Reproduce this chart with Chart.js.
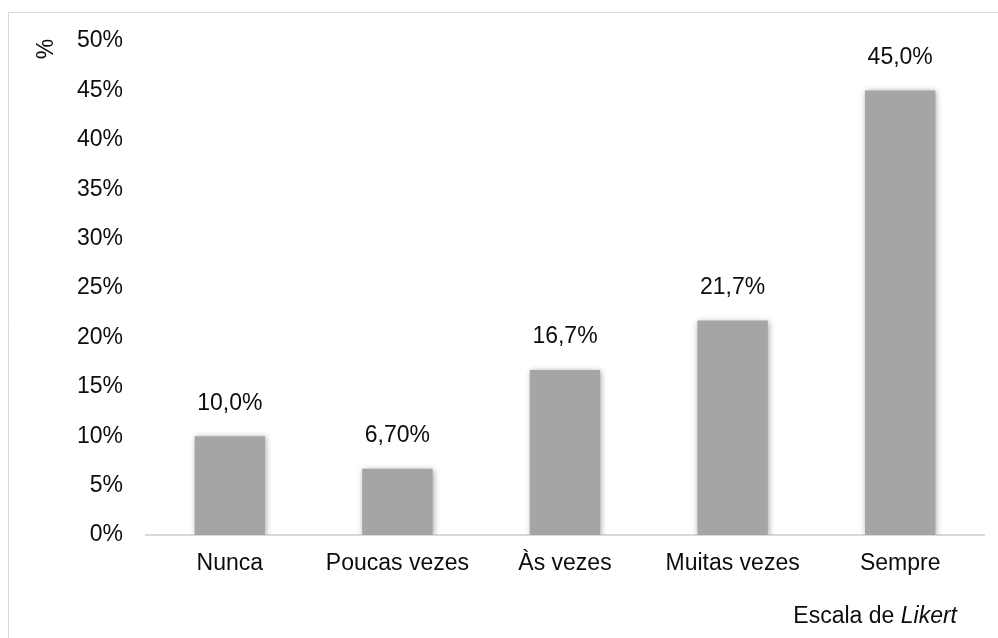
<!DOCTYPE html>
<html>
<head>
<meta charset="utf-8">
<script src="https://cdn.jsdelivr.net/npm/chart.js@4.4.0/dist/chart.umd.min.js"></script>
<style>
    html, body { margin: 0; padding: 0; background: #fff; }
    #wrap { width: 998px; height: 638px; position: relative; }
</style>
</head>
<body>
<div id="wrap"><canvas id="likertChart"></canvas></div>
<script>
// ============================================
// Escala de Likert - bar chart
// ============================================

const categories = ['Nunca', 'Poucas vezes', 'Às vezes', 'Muitas vezes', 'Sempre'];
const percentValues = [10.0, 6.7, 16.7, 21.7, 45.0];
const valueLabels = ['10,0%', '6,70%', '16,7%', '21,7%', '45,0%'];
const yTicks = [0, 5, 10, 15, 20, 25, 30, 35, 40, 45, 50];

const FONT = '"Liberation Sans", Arial, sans-serif';
const TEXT_COLOR = '#0d0d0d';

// Frame, axis titles and value labels
const decorPlugin = {
    id: 'decor',
    beforeDraw(chart) {
        const ctx = chart.ctx;
        ctx.save();
        ctx.strokeStyle = '#d9d9d9';
        ctx.lineWidth = 1;
        ctx.beginPath();
        ctx.moveTo(8.5, 640);
        ctx.lineTo(8.5, 12.5);
        ctx.lineTo(1000, 12.5);
        ctx.stroke();
        ctx.restore();
    },
    beforeDatasetsDraw(chart) {
        const ctx = chart.ctx;
        ctx.save();
        ctx.shadowColor = 'rgba(0, 0, 0, 0.35)';
        ctx.shadowBlur = 6;
        ctx.shadowOffsetX = 1;
        ctx.shadowOffsetY = 1;
    },
    afterDatasetsDraw(chart) {
        const ctx = chart.ctx;
        ctx.restore();

        ctx.save();
        ctx.font = '23px ' + FONT;
        ctx.fillStyle = TEXT_COLOR;
        ctx.textAlign = 'center';
        ctx.textBaseline = 'middle';
        chart.getDatasetMeta(0).data.forEach((bar, i) => {
            ctx.fillText(valueLabels[i], bar.x, bar.y - 33);
        });

        // y axis title
        ctx.save();
        ctx.translate(47, 49);
        ctx.rotate(-Math.PI / 2);
        ctx.fillText('%', 0, 0);
        ctx.restore();

        // x axis title, "Likert" in italics
        ctx.textBaseline = 'alphabetic';
        ctx.textAlign = 'left';
        const right = 957;
        const base = 623;
        ctx.font = 'italic 23px ' + FONT;
        const wItalic = ctx.measureText('Likert').width;
        ctx.font = '23px ' + FONT;
        const wPlain = ctx.measureText('Escala de ').width;
        const x0 = right - wItalic - wPlain;
        ctx.fillText('Escala de ', x0, base);
        ctx.font = 'italic 23px ' + FONT;
        ctx.fillText('Likert', x0 + wPlain, base);
        ctx.restore();
    }
};

const ctx = document.getElementById('likertChart');

new Chart(ctx, {
    type: 'bar',
    data: {
        labels: categories,
        datasets: [{
            data: percentValues,
            backgroundColor: '#a5a5a5',
            borderWidth: 0,
            barPercentage: 0.42,
            categoryPercentage: 1.0
        }]
    },
    options: {
        responsive: true,
        maintainAspectRatio: false,
        animation: false,
        devicePixelRatio: 1,
        layout: {
            padding: { left: 0, right: 14, top: 41, bottom: 0 }
        },
        plugins: {
            legend: { display: false },
            tooltip: { enabled: false }
        },
        scales: {
            y: {
                min: 0,
                max: 50,
                afterFit: function(scale) { scale.width = 146; },
                afterBuildTicks: function(scale) {
                    scale.ticks = yTicks.map(v => ({ value: v }));
                },
                grid: { display: false, drawTicks: false },
                border: { display: false },
                ticks: {
                    padding: 23,
                    color: TEXT_COLOR,
                    font: { family: FONT, size: 23 },
                    callback: function(value) {
                        return value + '%';
                    }
                }
            },
            x: {
                afterFit: function(scale) { scale.height = 103; },
                grid: { display: false, drawTicks: false },
                border: { display: true, color: '#d9d9d9', width: 2 },
                ticks: {
                    padding: 15,
                    color: TEXT_COLOR,
                    maxRotation: 0,
                    font: { family: FONT, size: 23 }
                }
            }
        }
    },
    plugins: [decorPlugin]
});
</script>
</body>
</html>
